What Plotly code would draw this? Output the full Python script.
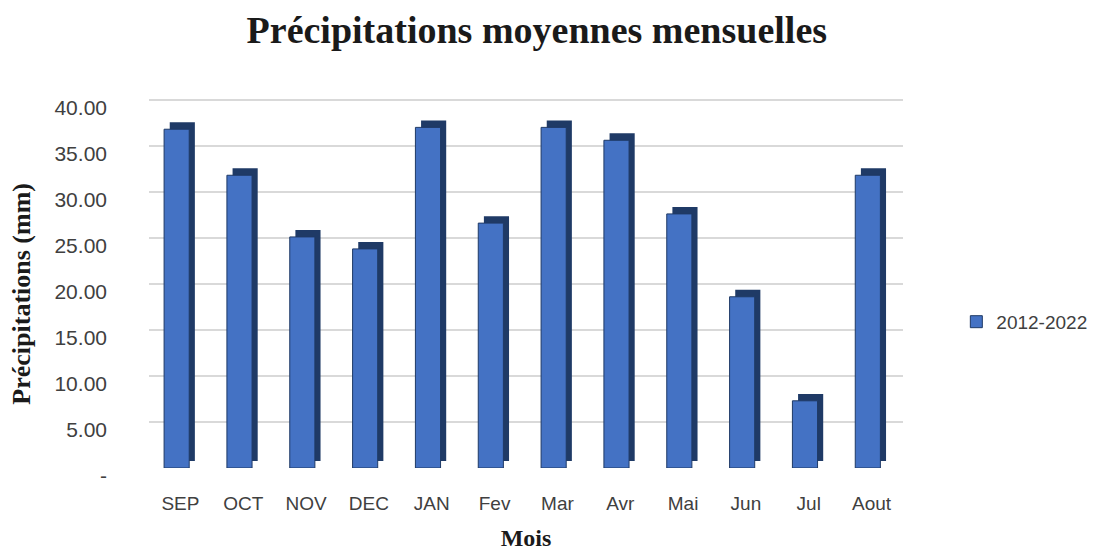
import plotly.graph_objects as go

months = ["SEP", "OCT", "NOV", "DEC", "JAN", "Fev", "Mar", "Avr", "Mai", "Jun", "Jul", "Aout"]
precip = [36.8, 31.8, 25.1, 23.8, 37.0, 26.6, 37.0, 35.6, 27.6, 18.6, 7.3, 31.8]
series_name = "2012-2022"
y_tickvals = [0, 5, 10, 15, 20, 25, 30, 35, 40]
y_ticktext = ["-", "5.00", "10.00", "15.00", "20.00", "25.00", "30.00", "35.00", "40.00"]

depth = 0.75  # visual depth of the pseudo-3D columns (in mm units)

fig = go.Figure()
# dark side/top face (depth) of each column
fig.add_trace(go.Bar(
    x=months, y=precip, base=depth, width=0.40, offset=-0.17,
    marker=dict(color="#1F3A66", line=dict(width=0)),
    showlegend=False, hoverinfo="skip",
))
# front face
fig.add_trace(go.Bar(
    x=months, y=precip, width=0.40, offset=-0.26, name=series_name,
    marker=dict(color="#4472C4", line=dict(color="#1F3A66", width=1)),
))

fig.update_layout(
    width=1104, height=554,
    barmode="overlay",
    paper_bgcolor="white", plot_bgcolor="white",
    margin=dict(l=141, r=209, t=89, b=94),
    title=dict(text="<b>Précipitations moyennes mensuelles</b>", x=0.479, xanchor="center",
               y=0.960, yanchor="middle",
               font=dict(family="Liberation Serif", size=38, color="#1a1a1a")),
    legend=dict(xref="container", x=0.859, xanchor="left", y=0.394, yanchor="middle",
                font=dict(family="Liberation Sans Narrow, Liberation Sans", size=19, color="#404040"),
                itemwidth=30),
    showlegend=True,
    annotations=[dict(
        text="<b>Précipitations (mm)</b>", textangle=-90, showarrow=False,
        xref="paper", yref="paper", x=-0.1684, y=0.47, xanchor="center", yanchor="middle",
        font=dict(family="Liberation Serif", size=26, color="#1a1a1a"),
    )],
)
fig.update_xaxes(
    showgrid=False, showline=False, zeroline=False,
    ticks="", ticklabelstandoff=22,
    tickfont=dict(family="Liberation Sans Narrow, Liberation Sans", size=19, color="#404040"),
    title=dict(text="<b>Mois</b>", font=dict(family="Liberation Serif", size=24, color="#1a1a1a"),
               standoff=16),
)
fig.update_yaxes(
    range=[0, 40.3], tickvals=y_tickvals, ticktext=y_ticktext,
    showgrid=True, gridcolor="#D9D9D9", gridwidth=2, zeroline=False, showline=False,
    ticks="", ticklabelstandoff=41, ticklabelshift=8,
    tickfont=dict(family="Liberation Sans Narrow, Liberation Sans", size=21, color="#404040"),
)

fig.write_html("out.html")
